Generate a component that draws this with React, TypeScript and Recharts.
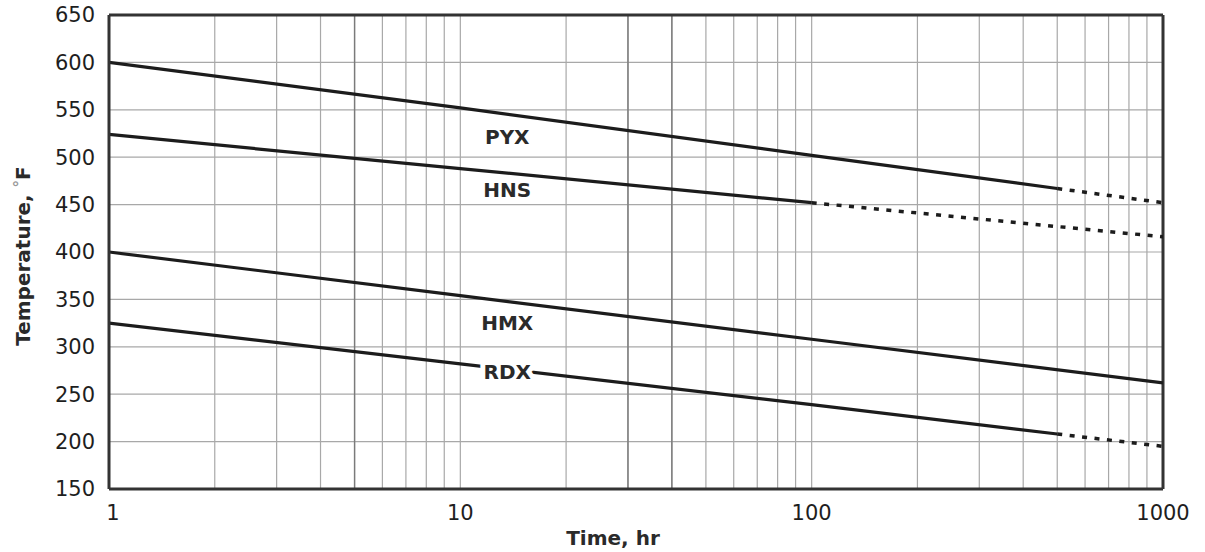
import React from 'react';
import { LineChart, Line, XAxis, YAxis, CartesianGrid, ReferenceLine } from 'recharts';

// log grid: every integer step inside each decade
const xTicks = [1, 2, 3, 4, 5, 6, 7, 8, 9, 10, 20, 30, 40, 50, 60, 70, 80, 90, 100, 200, 300, 400, 500, 600, 700, 800, 900, 1000];
const xLabelTicks = [1, 10, 100, 1000];
const yTicks = [150, 200, 250, 300, 350, 400, 450, 500, 550, 600, 650];
// grid lines that print darker in the original
const darkGridHours = [5, 30, 40];

// solid parts of the curves (hours, °F)
const pyxHours = [1, 10, 100, 500];
const pyxTemps = [600, 552, 502, 467];
const hnsHours = [1, 10, 100];
const hnsTemps = [524, 488, 452];
const hmxHours = [1, 10, 100, 1000];
const hmxTemps = [400, 354, 308, 262];
const rdxHours = [1, 10, 100, 500];
const rdxTemps = [325, 282, 239, 208];

// dotted extrapolations
const pyxExtHours = [500, 1000];
const pyxExtTemps = [467, 452];
const hnsExtHours = [100, 1000];
const hnsExtTemps = [452, 416];
const rdxExtHours = [500, 1000];
const rdxExtTemps = [208, 195];

// curve names and where they sit
const names = ['PYX', 'HNS', 'HMX', 'RDX'];
const nameHours = [13.6, 13.6, 13.6, 13.6];
const nameTemps = [522, 466, 325, 274];

const toPoints = (hours: number[], temps: number[]) => hours.map((t, i) => ({ t, v: temps[i] }));

const FONT = '"DejaVu Sans", "Liberation Sans", Arial, sans-serif';
const INK = '#1c1c1c';
const TEXT = '#1e1e1e';

const XTick = (props: any) => {
  const { x, y, payload } = props;
  if (!xLabelTicks.includes(payload.value)) return <g />;
  return (
    <text x={x + (payload.value === 1 ? 4 : 0)} y={y} dy="0.75em" textAnchor="middle"
      fontFamily={FONT} fontSize={21} fill={TEXT}>
      {payload.value}
    </text>
  );
};

const NameDot = (props: any) => {
  const { cx, cy, index } = props;
  return (
    <text key={'n' + index} x={cx} y={cy} dy="0.36em" textAnchor="middle" fontFamily={FONT}
      fontWeight="bold" fontSize={20} fill="#2a2a2a" stroke="#fff" strokeWidth={10}
      paintOrder="stroke" strokeLinejoin="round">
      {names[index]}
    </text>
  );
};

export default function App() {
  return (
    <div style={{ position: 'absolute', left: 0, top: 0, background: '#fff' }}>
      <LineChart width={1205} height={552} margin={{ top: 15, right: 42, left: 0, bottom: 0 }}>
        <CartesianGrid stroke="#a8a8a8" strokeWidth={1.2} />
        <XAxis
          dataKey="t"
          type="number"
          scale="log"
          domain={[1, 1000]}
          ticks={xTicks}
          interval={0}
          allowDataOverflow
          height={63}
          tickLine={false}
          tickMargin={9}
          axisLine={{ stroke: '#333', strokeWidth: 3 }}
          tick={<XTick />}
          label={{
            content: () => (
              <text x={613} y={545} textAnchor="middle" fontFamily={FONT} fontWeight="bold" fontSize={20} fill="#2a2a2a">
                Time, hr
              </text>
            ),
          }}
        />
        <YAxis
          type="number"
          domain={[150, 650]}
          ticks={yTicks}
          interval={0}
          width={109}
          tickLine={false}
          tickMargin={8}
          axisLine={{ stroke: '#333', strokeWidth: 3 }}
          tick={{ fontFamily: FONT, fontSize: 21, fill: TEXT }}
          label={{
            content: () => (
              <text x={23} y={256} transform="rotate(-90 23 256)" dy="0.36em" textAnchor="middle"
                fontFamily={FONT} fontWeight="bold" fontSize={20} fill="#2a2a2a">
                Temperature,{'  '}
                <tspan fill="#999" fontSize={15} dy="-5">°</tspan>
                <tspan dy="5">F</tspan>
              </text>
            ),
          }}
        />
        {darkGridHours.map((h) => (
          <ReferenceLine key={h} x={h} stroke="#7a7a7a" strokeWidth={1.4} />
        ))}
        <ReferenceLine y={650} stroke="#333" strokeWidth={3} />
        <ReferenceLine x={1000} stroke="#333" strokeWidth={3} />

        <Line data={toPoints(pyxHours, pyxTemps)} dataKey="v" stroke={INK} strokeWidth={3.2} dot={false} isAnimationActive={false} />
        <Line data={toPoints(pyxExtHours, pyxExtTemps)} dataKey="v" stroke={INK} strokeWidth={3.5} strokeDasharray="5 7.5" dot={false} isAnimationActive={false} />
        <Line data={toPoints(hnsHours, hnsTemps)} dataKey="v" stroke={INK} strokeWidth={3.2} dot={false} isAnimationActive={false} />
        <Line data={toPoints(hnsExtHours, hnsExtTemps)} dataKey="v" stroke={INK} strokeWidth={3.5} strokeDasharray="5 7.5" dot={false} isAnimationActive={false} />
        <Line data={toPoints(hmxHours, hmxTemps)} dataKey="v" stroke={INK} strokeWidth={3.2} dot={false} isAnimationActive={false} />
        <Line data={toPoints(rdxHours, rdxTemps)} dataKey="v" stroke={INK} strokeWidth={3.2} dot={false} isAnimationActive={false} />
        <Line data={toPoints(rdxExtHours, rdxExtTemps)} dataKey="v" stroke={INK} strokeWidth={3.5} strokeDasharray="5 7.5" dot={false} isAnimationActive={false} />

        <Line data={toPoints(nameHours, nameTemps)} dataKey="v" stroke="none" dot={<NameDot />} activeDot={false} isAnimationActive={false} />
      </LineChart>
    </div>
  );
}
